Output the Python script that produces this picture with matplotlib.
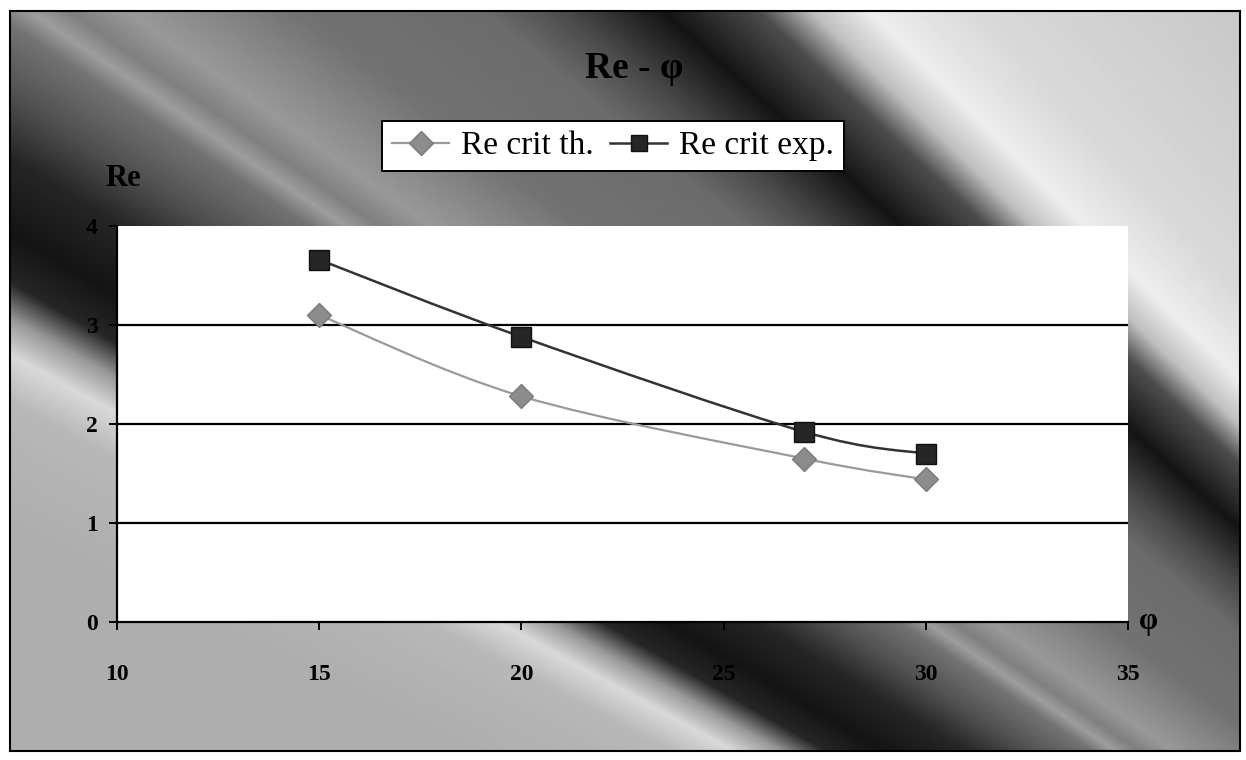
import numpy as np
import matplotlib.pyplot as plt
from matplotlib.path import Path
from matplotlib.patches import PathPatch

plt.rcParams['font.family'] = ['Liberation Serif', 'DejaVu Serif']
plt.rcParams['font.weight'] = 'bold'

# Data
phi = [15, 20, 27, 30]
re_th = [3.10, 2.28, 1.65, 1.44]
re_exp = [3.66, 2.88, 1.92, 1.70]
x_ticks = [10, 15, 20, 25, 30, 35]
y_ticks = [0, 1, 2, 3, 4]

W, H = 1246, 760
fig = plt.figure(figsize=(W / 100, H / 100), dpi=100)
fig.patch.set_facecolor('white')

# Diagonal gray band background (decoration only), bands fan out from a point
bg = fig.add_axes([0.008, 0.012, 0.987, 0.974])
yy, xx = np.mgrid[0:H, 0:W]
theta = np.degrees(np.arctan2(1850 - yy, 2700 - xx))
t_knots = [20, 26, 28.2, 29.0, 29.6, 30.2, 31.0, 32.2, 33.2, 34.2, 34.6, 35.0, 35.6, 37.5,
           39.8, 40.8, 42.2, 43.6, 44.4, 45.3, 47, 52]
g_knots = [0.68, 0.68, 0.72, 0.85, 0.6, 0.15, 0.08, 0.15, 0.32, 0.45, 0.62, 0.5, 0.6, 0.45,
           0.42, 0.3, 0.08, 0.3, 0.75, 0.93, 0.85, 0.78]
img = np.interp(theta, t_knots, g_knots)
bg.imshow(img, cmap='gray', vmin=0, vmax=1, aspect='auto', interpolation='bilinear')
bg.set_xticks([])
bg.set_yticks([])
for s in bg.spines.values():
    s.set_linewidth(1.5)
    s.set_color('black')

ax = fig.add_axes([117 / W, 1 - 622 / H, (1128 - 117) / W, (622 - 226) / H])
ax.set_facecolor('white')
ax.set_xlim(10, 35)
ax.set_ylim(0, 4)
ax.set_xticks(x_ticks)
ax.set_yticks(y_ticks)
for t in y_ticks:
    if 0 < t < 4:
        ax.axhline(t, color='black', lw=1.6, zorder=1)

for side in ['top', 'right']:
    ax.spines[side].set_visible(False)
ax.spines['left'].set_linewidth(1.6)
ax.spines['bottom'].set_linewidth(1.6)
ax.tick_params(axis='both', direction='out', length=6, width=1.4, labelsize=17)
ax.tick_params(axis='x', pad=24)
ax.tick_params(axis='y', pad=8)


def smooth_path(xs, ys):
    # Excel-like smoothed line: cubic bezier segments through the points
    pts = np.column_stack([xs, ys]).astype(float)
    n = len(pts)
    verts = [pts[0]]
    codes = [Path.MOVETO]
    for i in range(n - 1):
        p0 = pts[i - 1] if i > 0 else pts[i]
        p1 = pts[i]
        p2 = pts[i + 1]
        p3 = pts[i + 2] if i + 2 < n else pts[i + 1]
        c1 = p1 + (p2 - p0) / 6.0
        c2 = p2 - (p3 - p1) / 6.0
        verts += [c1, c2, p2]
        codes += [Path.CURVE4] * 3
    return Path(verts, codes)


th_line = '#9a9a9a'
exp_line = '#333333'
ax.add_patch(PathPatch(smooth_path(phi, re_th), fill=False, edgecolor=th_line, lw=1.6, zorder=3))
ax.add_patch(PathPatch(smooth_path(phi, re_exp), fill=False, edgecolor=exp_line, lw=1.8, zorder=3))
ax.plot(phi, re_th, linestyle='none', marker='D', markersize=12, color='#8c8c8c',
        markeredgecolor='#7a7a7a', zorder=4)
ax.plot(phi, re_exp, linestyle='none', marker='s', markersize=15, color='#262626',
        markeredgecolor='#111111', zorder=4)

# legend proxies
h1, = ax.plot([], [], color=th_line, lw=1.6, marker='D', markersize=12,
              markerfacecolor='#8c8c8c', markeredgecolor='#7a7a7a')
h2, = ax.plot([], [], color=exp_line, lw=1.8, marker='s', markersize=12,
              markerfacecolor='#262626', markeredgecolor='#111111')
leg = fig.legend([h1, h2], ['Re crit th.', 'Re crit exp.'], ncol=2,
                 loc='center', bbox_to_anchor=(613 / W, 1 - 146 / H),
                 prop={'family': 'Liberation Serif', 'weight': 'normal', 'size': 24},
                 frameon=True, fancybox=False, handlelength=1.7, handletextpad=0.35,
                 columnspacing=0.5, borderpad=0.3, borderaxespad=0)
leg.get_frame().set_edgecolor('black')
leg.get_frame().set_linewidth(1.4)
leg.get_frame().set_alpha(1)

fig.text(634 / W, 1 - 68 / H, 'Re - φ', ha='center', va='center', fontsize=27, fontweight='bold')
fig.text(123 / W, 1 - 179 / H, 'Re', ha='center', va='center', fontsize=22, fontweight='bold')
fig.text(1148 / W, 1 - 621 / H, 'φ', ha='center', va='center', fontsize=22, fontweight='bold')

fig.savefig('out.png', dpi=100)
